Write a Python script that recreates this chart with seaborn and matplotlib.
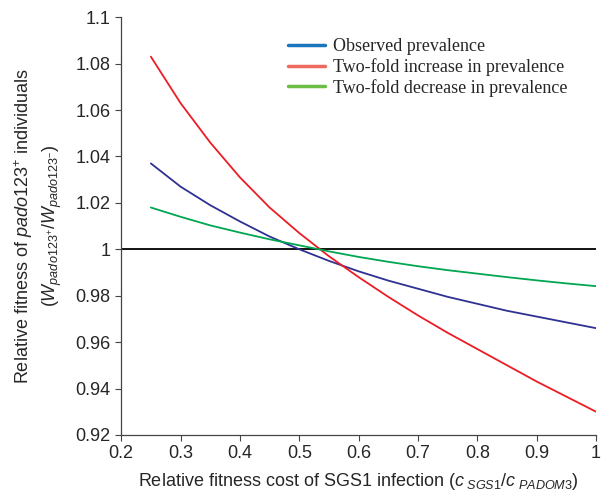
import matplotlib
matplotlib.use("Agg")
import matplotlib.pyplot as plt
from matplotlib.lines import Line2D
import seaborn as sns
import pandas as pd

x_vals = [0.25, 0.30, 0.35, 0.40, 0.45, 0.50, 0.55, 0.60, 0.65, 0.70, 0.75, 0.80, 0.85, 0.90, 0.95, 1.00]
observed = [1.037, 1.027, 1.019, 1.012, 1.0055, 1.000, 0.995, 0.9905, 0.9865, 0.983, 0.9795, 0.9765, 0.9735, 0.971, 0.9685, 0.966]
increase = [1.083, 1.063, 1.046, 1.031, 1.018, 1.007, 0.997, 0.988, 0.9795, 0.9715, 0.964, 0.957, 0.950, 0.943, 0.9365, 0.930]
decrease = [1.018, 1.014, 1.0103, 1.0072, 1.0043, 1.0017, 0.9991, 0.9967, 0.9946, 0.9927, 0.991, 0.9895, 0.988, 0.9866, 0.9853, 0.9841]
series_names = ["Observed prevalence", "Two-fold increase in prevalence", "Two-fold decrease in prevalence"]
line_colors = ["#2e3192", "#ed1c24", "#00a651"]
legend_colors = ["#1b75bb", "#ee6a5f", "#6cbd45"]
x_ticks = [0.2, 0.3, 0.4, 0.5, 0.6, 0.7, 0.8, 0.9, 1.0]
x_tick_labels = ["0.2", "0.3", "0.4", "0.5", "0.6", "0.7", "0.8", "0.9", "1"]
y_ticks = [0.92, 0.94, 0.96, 0.98, 1.0, 1.02, 1.04, 1.06, 1.08, 1.1]
y_tick_labels = ["0.92", "0.94", "0.96", "0.98", "1", "1.02", "1.04", "1.06", "1.08", "1.1"]

sns.set_style("ticks")
plt.rcParams["font.family"] = ["Liberation Sans", "DejaVu Sans"]
plt.rcParams["mathtext.fontset"] = "custom"
plt.rcParams["mathtext.rm"] = "Liberation Sans"
plt.rcParams["mathtext.it"] = "Liberation Sans:italic"
plt.rcParams["mathtext.bf"] = "Liberation Sans:bold"

df = pd.DataFrame({
    "x": x_vals * 3,
    "y": observed + increase + decrease,
    "series": [series_names[0]] * len(x_vals) + [series_names[1]] * len(x_vals) + [series_names[2]] * len(x_vals),
})

fig = plt.figure(figsize=(6.12, 4.92), dpi=100)
ax = fig.add_axes([0.198, 0.116, 0.776, 0.849])

ax.axhline(1.0, color="black", linewidth=1.3, zorder=1)
sns.lineplot(data=df, x="x", y="y", hue="series", hue_order=series_names,
             palette=line_colors, linewidth=1.3, ax=ax, legend=False, zorder=2)

ax.set_xlim(0.2, 1.0)
ax.set_ylim(0.92, 1.1)
ax.set_xticks(x_ticks)
ax.set_xticklabels(x_tick_labels)
ax.set_yticks(y_ticks)
ax.set_yticklabels(y_tick_labels)
ax.tick_params(axis="both", labelsize=13, direction="out", length=4, width=0.8, color="#444444")
for s in ["top", "right"]:
    ax.spines[s].set_visible(False)
for s in ["left", "bottom"]:
    ax.spines[s].set_color("#444444")
    ax.spines[s].set_linewidth(0.9)

ax.set_xlabel(r"Relative fitness cost of SGS1 infection ($c_{\ SGS1}/c_{\ PADOM3}$)", fontsize=13, labelpad=6)
ax.set_ylabel("Relative fitness of $pado123^{+}$ individuals\n($W_{pado123^{+}}/W_{pado123^{-}}$)",
              fontsize=13, labelpad=8, linespacing=1.4)

handles = [Line2D([0], [0], color=c, linewidth=2.5) for c in legend_colors]
leg = ax.legend(handles, series_names, loc="upper left", bbox_to_anchor=(0.318, 0.988),
                frameon=False, prop={"family": "Liberation Serif", "size": 13},
                handlelength=2.0, handletextpad=0.45, labelspacing=0.15)

fig.savefig("out.png", dpi=100)
